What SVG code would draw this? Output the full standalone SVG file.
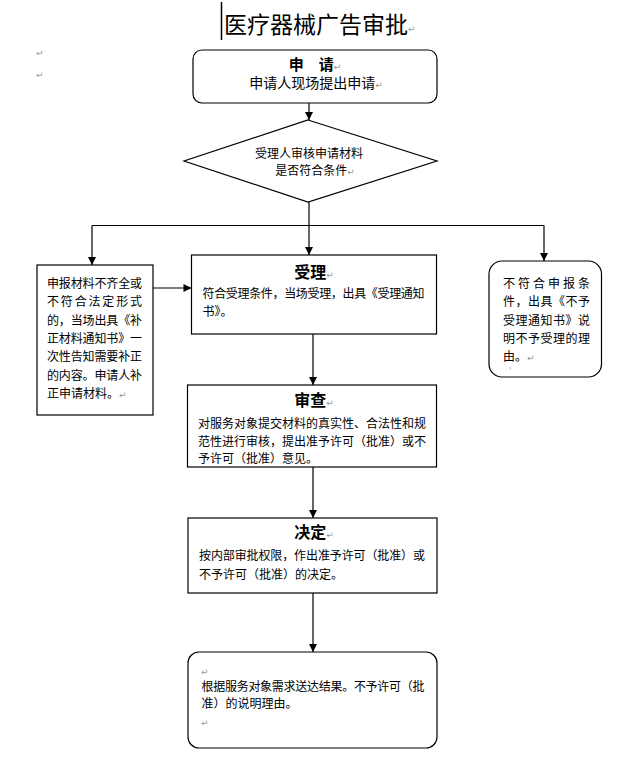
<svg xmlns="http://www.w3.org/2000/svg" width="644" height="766" viewBox="0 0 644 766">
<defs>
<style>
.box{fill:#fff;stroke:#000;stroke-width:1.2}
.t{font-family:"Noto Sans CJK SC","Noto Sans CJK JP",sans-serif;font-size:12px;fill:#000}
.h{font-family:"Noto Sans CJK SC","Noto Sans CJK JP",sans-serif;font-size:16px;font-weight:bold;fill:#000}
.pm{font-family:"DejaVu Sans",sans-serif;font-size:9px;fill:#999}
.c{fill:none;stroke:#000;stroke-width:1.2}
</style>
<marker id="ah" markerWidth="10" markerHeight="10" refX="9" refY="5" orient="auto" markerUnits="userSpaceOnUse">
<path d="M1,1 L9,5 L1,9 Z" fill="#000"/>
</marker>
</defs>
<rect width="644" height="766" fill="#fff"/>

<g id="title">
<line x1="221.5" y1="2" x2="221.5" y2="40" stroke="#000" stroke-width="1.5"/>
<text x="224" y="33" font-family="Noto Sans CJK SC,sans-serif" font-size="23" fill="#000">医疗器械广告审批<tspan class="pm" dy="-1">↵</tspan></text>
<text class="pm" x="36" y="56">↵</text>
<text class="pm" x="36" y="78">↵</text>
</g>

<g id="connectors">
<line class="c" x1="309" y1="103" x2="309" y2="120" marker-end="url(#ah)"/>
<line class="c" x1="309" y1="202" x2="309" y2="225"/>
<line class="c" x1="92" y1="225.5" x2="544" y2="225.5"/>
<line class="c" x1="92" y1="225.5" x2="92" y2="265" marker-end="url(#ah)"/>
<line class="c" x1="309" y1="225" x2="309" y2="255" marker-end="url(#ah)"/>
<line class="c" x1="544" y1="225.5" x2="544" y2="261" marker-end="url(#ah)"/>
<line class="c" x1="153" y1="288" x2="191.5" y2="288" marker-end="url(#ah)"/>
<line class="c" x1="313" y1="334" x2="313" y2="385" marker-end="url(#ah)"/>
<line class="c" x1="313" y1="467" x2="313" y2="518" marker-end="url(#ah)"/>
<line class="c" x1="313" y1="593" x2="313" y2="652" marker-end="url(#ah)"/>
</g>

<g id="apply">
<rect class="box" x="193" y="50" width="244" height="53" rx="9"/>
<text x="315" y="70" text-anchor="middle" font-family="Noto Sans CJK SC,sans-serif" font-size="15" font-weight="bold">申　请<tspan class="pm" font-weight="normal">↵</tspan></text>
<text x="316" y="88" text-anchor="middle" font-family="Noto Sans CJK SC,sans-serif" font-size="14">申请人现场提出申请<tspan class="pm">↵</tspan></text>
</g>

<g id="review-decision">
<polygon class="box" points="308,120 437,161 308,202 184,161"/>
<text class="t" x="309" y="157.5" text-anchor="middle">受理人审核申请材料</text>
<text class="t" x="315" y="174.5" text-anchor="middle">是否符合条件<tspan class="pm">↵</tspan></text>
</g>

<g id="incomplete">
<rect class="box" x="37" y="265" width="116" height="150"/>
<text class="t" x="47" y="287.5" textLength="95" lengthAdjust="spacing">申报材料不齐全或</text>
<text class="t" x="47" y="306" textLength="95" lengthAdjust="spacing">不符合法定形式</text>
<text class="t" x="47" y="324.5" textLength="95" lengthAdjust="spacing">的，当场出具《补</text>
<text class="t" x="47" y="343" textLength="95" lengthAdjust="spacing">正材料通知书》一</text>
<text class="t" x="47" y="361" textLength="95" lengthAdjust="spacing">次性告知需要补正</text>
<text class="t" x="47" y="379.5" textLength="95" lengthAdjust="spacing">的内容。申请人补</text>
<text class="t" x="47" y="398">正申请材料。<tspan class="pm">↵</tspan></text>
</g>

<g id="accept">
<rect class="box" x="191.5" y="255" width="245" height="79"/>
<text class="h" x="314" y="278" text-anchor="middle">受理<tspan class="pm" font-weight="normal">↵</tspan></text>
<text class="t" x="202.5" y="297.5" textLength="222" lengthAdjust="spacing">符合受理条件，当场受理，出具《受理通知</text>
<text class="t" x="202.5" y="315.5">书》。</text>
</g>

<g id="reject">
<rect class="box" x="489" y="261" width="112.5" height="116" rx="13"/>
<text class="t" x="503" y="287.5" textLength="87" lengthAdjust="spacing">不符合申报条</text>
<text class="t" x="503" y="306" textLength="87" lengthAdjust="spacing">件，出具《不予</text>
<text class="t" x="503" y="324.5" textLength="87" lengthAdjust="spacing">受理通知书》说</text>
<text class="t" x="503" y="343" textLength="87" lengthAdjust="spacing">明不予受理的理</text>
<text class="t" x="503" y="361">由。<tspan class="pm">↵</tspan></text>
<text class="pm" x="509" y="374" font-size="6">'</text>
</g>

<g id="examine">
<rect class="box" x="187.5" y="385" width="249" height="82"/>
<text class="h" x="314" y="406" text-anchor="middle">审查<tspan class="pm" font-weight="normal">↵</tspan></text>
<text class="t" x="198" y="427.5" textLength="228" lengthAdjust="spacing">对服务对象提交材料的真实性、合法性和规</text>
<text class="t" x="198" y="445.5" textLength="228" lengthAdjust="spacing">范性进行审核，提出准予许可（批准）或不</text>
<text class="t" x="198" y="462.5">予许可（批准）意见。</text>
</g>

<g id="decide">
<rect class="box" x="188" y="518" width="249" height="75"/>
<text class="h" x="314" y="538" text-anchor="middle">决定<tspan class="pm" font-weight="normal">↵</tspan></text>
<text class="t" x="199" y="559.5" textLength="226" lengthAdjust="spacing">按内部审批权限，作出准予许可（批准）或</text>
<text class="t" x="199" y="578.5">不予许可（批准）的决定。</text>
</g>

<g id="deliver">
<rect class="box" x="188" y="652" width="249" height="96" rx="11"/>
<text class="pm" x="201" y="675">↵</text>
<text class="t" x="201.5" y="691" textLength="223" lengthAdjust="spacing">根据服务对象需求送达结果。不予许可（批</text>
<text class="t" x="201.5" y="708">准）的说明理由。</text>
<text class="pm" x="201" y="726">↵</text>
</g>
</svg>
